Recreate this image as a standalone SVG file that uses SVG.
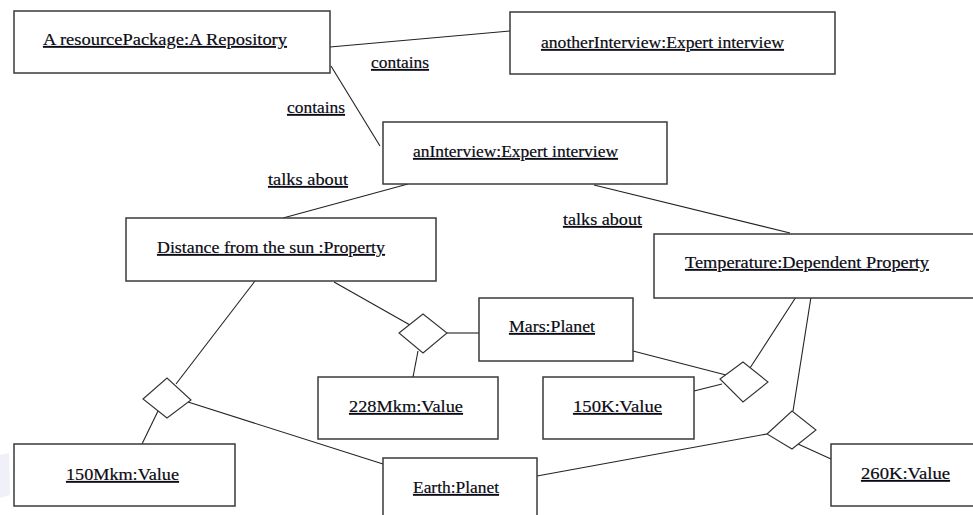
<svg xmlns="http://www.w3.org/2000/svg" width="973" height="515" viewBox="0 0 973 515">
<style>
.box{fill:#fff;stroke:#3a3a3a;stroke-width:1.5}
.dia{fill:#fff;stroke:#333;stroke-width:1.1}
.ln{stroke:#222;stroke-width:1.1;fill:none}
.t{font-family:'Liberation Serif','Times New Roman',serif;font-size:17.5px;fill:#0a0a14;stroke:#0a0a14;stroke-width:0.2;text-decoration:underline}
</style>
<rect x="0" y="0" width="973" height="515" fill="#fff"/>
<path d="M0,455 L9,453 L10,495 L0,498 Z" fill="#f0f0f8"/>
<g id="connectors">
<line class="ln" x1="330" y1="47" x2="510" y2="31"/>
<line class="ln" x1="331" y1="66" x2="380" y2="146"/>
<line class="ln" x1="408" y1="184" x2="283" y2="218"/>
<line class="ln" x1="594" y1="185" x2="790" y2="233"/>
<line class="ln" x1="255" y1="281" x2="176" y2="384"/>
<line class="ln" x1="158" y1="411" x2="142" y2="444"/>
<line class="ln" x1="188" y1="402" x2="383" y2="464"/>
<line class="ln" x1="334" y1="282" x2="410" y2="325"/>
<line class="ln" x1="447" y1="333" x2="479" y2="333"/>
<line class="ln" x1="418" y1="351" x2="413" y2="377"/>
<line class="ln" x1="633" y1="351" x2="726" y2="375"/>
<line class="ln" x1="694" y1="391" x2="722" y2="384"/>
<line class="ln" x1="796" y1="297" x2="750" y2="368"/>
<line class="ln" x1="811" y1="297" x2="793" y2="411"/>
<line class="ln" x1="537" y1="476" x2="767" y2="434"/>
<line class="ln" x1="798" y1="444" x2="831" y2="459"/>
</g>
<g id="diamonds">
<polygon class="dia" points="143,399 167,378 191,400 167,418"/>
<polygon class="dia" points="399,333 423,314 447,333 423,353"/>
<polygon class="dia" points="720,379 743,362 768,382 743,402"/>
<polygon class="dia" points="767,434 792,411 816,430 792,449"/>
</g>
<g id="labels">
<text class="t" x="371" y="68" textLength="58" lengthAdjust="spacingAndGlyphs">contains</text>
<text class="t" x="287" y="113" textLength="58" lengthAdjust="spacingAndGlyphs">contains</text>
<text class="t" x="268" y="185" textLength="80" lengthAdjust="spacingAndGlyphs">talks about</text>
<text class="t" x="563" y="225" textLength="79" lengthAdjust="spacingAndGlyphs">talks about</text>
</g>
<g id="resourcePackage">
<rect class="box" x="14" y="11" width="316" height="62"/>
<text class="t" x="43" y="45" textLength="244" lengthAdjust="spacingAndGlyphs">A resourcePackage:A Repository</text>
</g>
<g id="anotherInterview">
<rect class="box" x="510" y="12" width="325" height="62"/>
<text class="t" x="541" y="48" textLength="243" lengthAdjust="spacingAndGlyphs">anotherInterview:Expert interview</text>
</g>
<g id="anInterview">
<rect class="box" x="383" y="122" width="284" height="62"/>
<text class="t" x="413" y="157" textLength="205" lengthAdjust="spacingAndGlyphs">anInterview:Expert interview</text>
</g>
<g id="distance">
<rect class="box" x="126" y="218" width="310" height="63"/>
<text class="t" x="157" y="253" textLength="228" lengthAdjust="spacingAndGlyphs">Distance from the sun :Property</text>
</g>
<g id="temperature">
<rect class="box" x="654" y="234" width="330" height="64"/>
<text class="t" x="685" y="268" textLength="244" lengthAdjust="spacingAndGlyphs">Temperature:Dependent Property</text>
</g>
<g id="mars">
<rect class="box" x="479" y="298" width="154" height="63"/>
<text class="t" x="509" y="332" textLength="86" lengthAdjust="spacingAndGlyphs">Mars:Planet</text>
</g>
<g id="v228Mkm">
<rect class="box" x="318" y="377" width="180" height="62"/>
<text class="t" x="349" y="412" textLength="114" lengthAdjust="spacingAndGlyphs">228Mkm:Value</text>
</g>
<g id="v150K">
<rect class="box" x="543" y="377" width="151" height="62"/>
<text class="t" x="573" y="412" textLength="89" lengthAdjust="spacingAndGlyphs">150K:Value</text>
</g>
<g id="v150Mkm">
<rect class="box" x="14" y="444" width="221" height="62"/>
<text class="t" x="66" y="480" textLength="113" lengthAdjust="spacingAndGlyphs">150Mkm:Value</text>
</g>
<g id="earth">
<rect class="box" x="383" y="458" width="154" height="70"/>
<text class="t" x="413" y="493" textLength="86" lengthAdjust="spacingAndGlyphs">Earth:Planet</text>
</g>
<g id="v260K">
<rect class="box" x="831" y="444" width="160" height="62"/>
<text class="t" x="861" y="479" textLength="89" lengthAdjust="spacingAndGlyphs">260K:Value</text>
</g>
</svg>
